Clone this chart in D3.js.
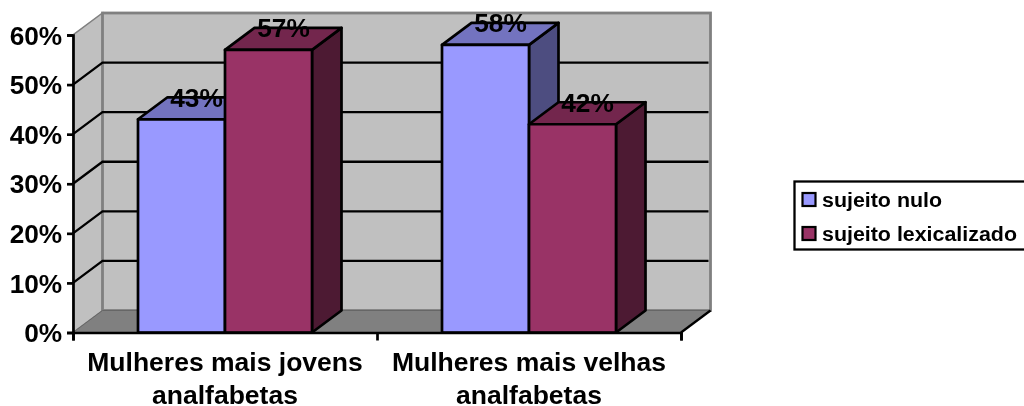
<!DOCTYPE html>
<html><head><meta charset="utf-8">
<script src="https://cdn.jsdelivr.net/npm/d3@7/dist/d3.min.js"></script>
<style>html,body{margin:0;padding:0;background:#fff;overflow:hidden}svg{display:block;filter:blur(0.45px)}text{font-family:"Liberation Sans",Arial,sans-serif;font-weight:bold;fill:#000}</style>
</head><body><svg id="c" width="1024" height="406"></svg>
<script>
const categories=[["Mulheres mais jovens","analfabetas"],["Mulheres mais velhas","analfabetas"]];
const seriesNames=["sujeito nulo","sujeito lexicalizado"];
const nulo=[43,58];
const lexicalizado=[57,42];
const yTicks=[0,10,20,30,40,50,60];
const front=["#9999ff","#993366"],topC=["#7373bf","#73264d"],side=["#4d4d80","#4d1a33"];
const dx=29.5,dy=22;
const svg=d3.select("#c");
const x=d3.scaleBand().domain([0,1]).range([73,681]);
const y=d3.scaleLinear().domain([0,60]).range([332.5,35]);
const x0=73,x1=681,y0=y(0),y6=y(60);
const poly=p=>p.map(d=>d.join(",")).join(" ");
const stretched=(px,py,sx)=>`translate(${px},${py}) scale(${sx},1)`;
// walls
svg.append("polygon").attr("points",poly([[x0,y0],[x0+dx,y0-dy],[x0+dx,y6-dy],[x0,y6]])).attr("fill","#c0c0c0").attr("stroke","#808080").attr("stroke-width",1.5);
svg.append("rect").attr("x",x0+dx).attr("y",y6-dy).attr("width",x1-x0).attr("height",y0-y6).attr("fill","#c0c0c0").attr("stroke","#808080").attr("stroke-width",2.8);
svg.append("polygon").attr("points",poly([[x0,y0],[x1,y0],[x1+dx,y0-dy],[x0+dx,y0-dy]])).attr("fill","#808080").attr("stroke","#666").attr("stroke-width",1);
// grid
yTicks.slice(1,6).forEach(t=>{
  svg.append("path").attr("d",`M${x0},${y(t)}L${x0+dx},${y(t)-dy}H${x1+dx-2}`).attr("fill","none").attr("stroke","#000").attr("stroke-width",2.3);
});
svg.append("line").attr("x1",x1).attr("y1",y0).attr("x2",x1+dx).attr("y2",y0-dy).attr("stroke","#000").attr("stroke-width",2.3);
// bars
const barW=87;
const data=[{s:0,c:0,v:nulo[0]},{s:1,c:0,v:lexicalizado[0]},{s:0,c:1,v:nulo[1]},{s:1,c:1,v:lexicalizado[1]}];
const bx=d=>x(d.c)+x.bandwidth()/2-barW+d.s*barW;
const g=svg.append("g").attr("stroke","#000").attr("stroke-width",2.7).attr("stroke-linejoin","round");
data.forEach(d=>{
  const l=bx(d),r=l+barW,t=y(d.v);
  g.append("polygon").attr("points",poly([[r,t],[r+dx,t-dy],[r+dx,y0-dy],[r,y0]])).attr("fill",side[d.s]);
  g.append("polygon").attr("points",poly([[l,t],[l+dx,t-dy],[r+dx,t-dy],[r,t]])).attr("fill",topC[d.s]);
  g.append("rect").attr("x",l).attr("y",t).attr("width",barW).attr("height",y0-t).attr("fill",front[d.s]);
});
// axes
const ay=svg.append("g").attr("transform",`translate(${x0},0)`).call(d3.axisLeft(y).tickValues(yTicks).tickFormat(d=>d+"%").tickSize(6).tickPadding(4));
ay.selectAll("text").attr("font-size",25.5).attr("x",-10.5).attr("dy","0.36em").attr("transform","scale(1.03,1)").style("font-family",'"Liberation Sans"').style("font-weight","bold");
const bl=d3.scaleOrdinal().domain([0,1,2]).range([x0,(x0+x1)/2,x1]);
svg.append("g").attr("transform",`translate(0,${y0})`).call(d3.axisBottom(bl).tickValues([0,1,2]).tickFormat("").tickSize(8));
svg.selectAll(".domain").attr("stroke","#000").attr("stroke-width",2.7);
svg.selectAll(".tick line").attr("stroke","#000").attr("stroke-width",2.7);
// category labels
categories.forEach((c,i)=>c.forEach((s,j)=>{
  svg.append("text").attr("transform",stretched(x(i)+x.bandwidth()/2,371+j*32.5,1.04)).attr("text-anchor","middle").attr("font-size",25.5).text(s);
}));
// data labels
data.forEach(d=>{
  svg.append("text").attr("transform",stretched(bx(d)+barW/2+15,y(d.v)-dy+9.5,1.03)).attr("text-anchor","middle").attr("font-size",25.5).text(d.v+"%");
});
// legend
svg.append("rect").attr("x",794.5).attr("y",181.5).attr("width",240).attr("height",68).attr("fill","#fff").attr("stroke","#000").attr("stroke-width",2.3);
seriesNames.forEach((n,i)=>{
  svg.append("rect").attr("x",802.5).attr("y",193+i*34).attr("width",13).attr("height",13).attr("fill",front[i]).attr("stroke","#000").attr("stroke-width",2.2);
  svg.append("text").attr("transform",stretched(822,207+i*34,1.07)).attr("font-size",20).text(n);
});
</script></body></html>
